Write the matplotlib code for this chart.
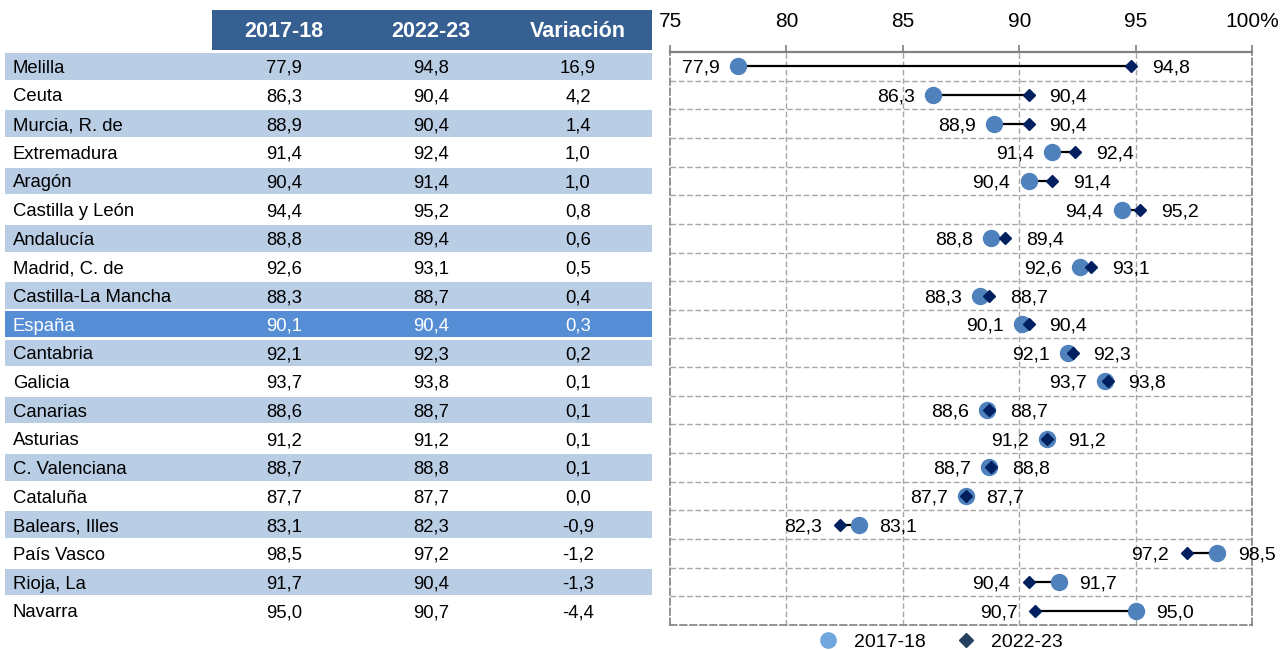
import matplotlib
matplotlib.use('Agg')
import matplotlib.pyplot as plt
from matplotlib.lines import Line2D
import numpy as np

regions = ["Melilla", "Ceuta", "Murcia, R. de", "Extremadura", "Aragón", "Castilla y León",
           "Andalucía", "Madrid, C. de", "Castilla-La Mancha", "España", "Cantabria", "Galicia",
           "Canarias", "Asturias", "C. Valenciana", "Cataluña", "Balears, Illes", "País Vasco",
           "Rioja, La", "Navarra"]
v_1718 = [77.9, 86.3, 88.9, 91.4, 90.4, 94.4, 88.8, 92.6, 88.3, 90.1, 92.1, 93.7,
          88.6, 91.2, 88.7, 87.7, 83.1, 98.5, 91.7, 95.0]
v_2223 = [94.8, 90.4, 90.4, 92.4, 91.4, 95.2, 89.4, 93.1, 88.7, 90.4, 92.3, 93.8,
          88.7, 91.2, 88.8, 87.7, 82.3, 97.2, 90.4, 90.7]
variacion = [16.9, 4.2, 1.4, 1.0, 1.0, 0.8, 0.6, 0.5, 0.4, 0.3, 0.2, 0.1,
             0.1, 0.1, 0.1, 0.0, -0.9, -1.2, -1.3, -4.4]
columns = ["2017-18", "2022-23", "Variación"]
x_ticks = [75, 80, 85, 90, 95, 100]
x_ticklabels = ["75", "80", "85", "90", "95", "100%"]

plt.rcParams['font.family'] = ['Liberation Sans', 'DejaVu Sans']

W, H = 1288, 650
fig = plt.figure(figsize=(W / 100, H / 100), dpi=100)
top_px, bot_px = 52, 625
n = len(regions)
idx = np.arange(n)

def fmt(v):
    return f"{v:.1f}".replace(".", ",")

# ---- table ----
ax_t = fig.add_axes([5 / W, (H - bot_px) / H, (652 - 5) / W, (bot_px - top_px) / H])
ax_t.set_xlim(5, 652)
ax_t.set_ylim(n - 0.5, -0.5)
ax_t.axis("off")

row_h = (bot_px - top_px) / n
band_colors = []
for i, r in enumerate(regions):
    if r == "España":
        band_colors.append("#558ED5")
    elif i % 2 == 0:
        band_colors.append("#B9CDE5")
    else:
        band_colors.append("none")
ax_t.barh(idx, 647, left=5, height=0.93, color=band_colors, linewidth=0)

# header
hdr_top = -0.5 - 42 / row_h
hdr_bot = -0.5 - 2 / row_h
ax_t.barh([(hdr_top + hdr_bot) / 2], 440, left=212, height=hdr_bot - hdr_top,
          color="#376092", linewidth=0, clip_on=False)
col_x = [284, 431, 578]
for cx, c in zip(col_x, columns):
    ax_t.text(cx, (hdr_top + hdr_bot) / 2 + 0.06, c, ha="center", va="center", color="white",
              fontsize=15.5, fontweight="bold", clip_on=False)

for i, r in enumerate(regions):
    tc = "white" if r == "España" else "black"
    ax_t.text(13, i, r, ha="left", va="center_baseline", fontsize=13.3, color=tc)
    for cx, val in zip(col_x, [v_1718[i], v_2223[i], variacion[i]]):
        ax_t.text(cx, i, fmt(val), ha="center", va="center_baseline", fontsize=13.3, color=tc)

# ---- dumbbell chart ----
ax = fig.add_axes([670 / W, (H - bot_px) / H, (1252 - 670) / W, (bot_px - top_px) / H])
ax.set_xlim(75, 100)
ax.set_ylim(n - 0.5, -0.5)

grid_kw = dict(color="#A6A6A6", linestyle=(0, (4, 2)), linewidth=1, zorder=0)
for gx in x_ticks[1:-1]:
    ax.axvline(gx, **grid_kw)
for gy in idx[:-1] + 0.5:
    ax.axhline(gy, **grid_kw)

for side in ["left", "right", "bottom"]:
    ax.spines[side].set_color("#808080")
    ax.spines[side].set_linestyle((0, (4, 2)))
    ax.spines[side].set_linewidth(1.2)
ax.spines["top"].set_color("#808080")
ax.spines["top"].set_linewidth(1.6)

ax.xaxis.tick_top()
ax.set_xticks(x_ticks)
ax.set_xticklabels(x_ticklabels)
ax.tick_params(axis="x", which="major", direction="out", length=5, color="#808080",
               width=1.2, pad=10, labelsize=15)
ax.set_yticks([])

for i in idx:
    a, b = v_1718[i], v_2223[i]
    ax.plot([a, b], [i, i], color="black", linewidth=1.6, zorder=2)
ax.plot(v_1718, idx, "o", color="#4F81BD", markersize=11.5, linestyle="none", zorder=3)
ax.plot(v_2223, idx, "D", color="#002060", markersize=6.5, linestyle="none", zorder=4)

for i in idx:
    a, b = v_1718[i], v_2223[i]
    if a <= b:
        left_v, right_v = a, b
    else:
        left_v, right_v = b, a
    ax.annotate(fmt(left_v), (left_v, i), xytext=(-13, 0), textcoords="offset points",
                ha="right", va="center_baseline", fontsize=14)
    ax.annotate(fmt(right_v), (right_v, i), xytext=(15, 0), textcoords="offset points",
                ha="left", va="center_baseline", fontsize=14)

handles = [
    Line2D([], [], marker="o", color="#6FA8DC", linestyle="none", markersize=11, label="2017-18"),
    Line2D([], [], marker="D", color="#243F60", linestyle="none", markersize=7, label="2022-23"),
]
ax.legend(handles=handles, loc="upper center", bbox_to_anchor=(0.457, -0.007), ncol=2,
          frameon=False, fontsize=14, handletextpad=0.3, columnspacing=1.1,
          borderaxespad=0.1, borderpad=0.1)

fig.savefig("out.png", dpi=100)
plt.close(fig)
